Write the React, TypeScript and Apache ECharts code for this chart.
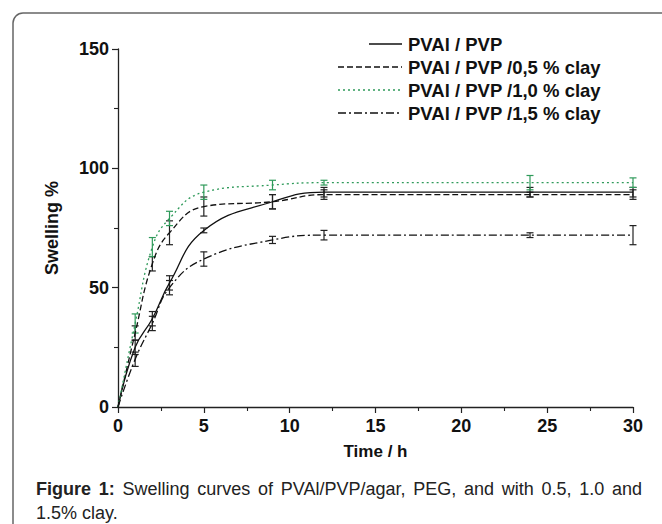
import React, { useEffect, useRef } from "react";
import * as echarts from "echarts";

const time = [0, 1, 2, 3, 5, 9, 12, 24, 30];
const seriesNames = [
  "PVAl / PVP",
  "PVAl / PVP /0,5 % clay",
  "PVAl / PVP /1,0 % clay",
  "PVAl / PVP /1,5 % clay",
];
const pvp = [0, 25, 37, 52, 74, 86, 90, 90, 90];
const pvpErr = [0, 3, 3, 3, 1, 3, 2, 2, 2];
const clay05 = [0, 31, 60, 73, 84, 86, 89, 89, 89];
const clay05Err = [0, 3, 3, 5, 4, 3, 2, 1, 2];
const clay10 = [0, 35, 67, 79, 90, 93, 94, 94, 94];
const clay10Err = [0, 4, 4, 3, 3, 2, 1, 3, 2];
const clay15 = [0, 20, 35, 50, 62, 70, 72, 72, 72];
const clay15Err = [0, 3, 3, 3, 3, 1.5, 2, 1, 4];
const xTicks = [0, 5, 10, 15, 20, 25, 30];
const yTicks = [0, 50, 100, 150];
const captionBold = ["Figure", "1:"];
const captionLine1 = ["Swelling", "curves", "of", "PVAl/PVP/agar,", "PEG,", "and", "with", "0.5,", "1.0", "and"];
const captionLine2 = "1.5% clay.";

const FONT = "'Liberation Sans', Arial, sans-serif";
const GREEN = "#2f9a5a";

export default function App() {
  const ref = useRef<HTMLDivElement>(null);

  useEffect(() => {
    if (!ref.current) return;
    const chart = echarts.init(ref.current, undefined, { renderer: "svg" });

    const values = [pvp, clay05, clay10, clay15];
    const errs = [pvpErr, clay05Err, clay10Err, clay15Err];
    const colors = ["#111", "#111", GREEN, "#111"];
    const dashes: any[] = ["solid", [6, 3], [2, 3], [8, 3, 2, 3]];

    const lineSeries = values.map((v, i) => ({
      name: seriesNames[i],
      type: "line",
      data: time.map((t, j) => [t, v[j]]),
      symbol: "none",
      smooth: 0.45,
      lineStyle: { color: colors[i], width: 1.3, type: dashes[i] },
      z: 3,
    }));

    const errSeries = values.map((v, i) => ({
      name: seriesNames[i] + " err",
      type: "custom",
      data: time
        .map((t, j) => [t, v[j] - errs[i][j], v[j] + errs[i][j]])
        .filter((_, j) => errs[i][j] > 0),
      z: 2,
      renderItem: (params: any, api: any) => {
        const x = api.value(0);
        const lo = api.value(1);
        const hi = api.value(2);
        const p1 = api.coord([x, hi]);
        const p2 = api.coord([x, lo]);
        const hw = 3.5;
        const st = { stroke: i === 2 ? GREEN : "#222", lineWidth: 1.2 };
        return {
          type: "group",
          children: [
            { type: "line", shape: { x1: p1[0], y1: p1[1], x2: p2[0], y2: p2[1] }, style: st },
            { type: "line", shape: { x1: p1[0] - hw, y1: p1[1], x2: p1[0] + hw, y2: p1[1] }, style: st },
            { type: "line", shape: { x1: p2[0] - hw, y1: p2[1], x2: p2[0] + hw, y2: p2[1] }, style: st },
          ],
        };
      },
    }));

    const legendRows = seriesNames.map((name, i) => {
      const y = 44 + i * 23;
      const x1 = i === 0 ? 369 : 338;
      return [
        {
          type: "line",
          shape: { x1, y1: y, x2: 402, y2: y },
          style: {
            stroke: colors[i],
            lineWidth: 1.3,
            lineDash: dashes[i] === "solid" ? null : dashes[i],
          },
        },
        {
          type: "text",
          x: 408,
          y,
          style: {
            text: name,
            font: `bold 18.5px ${FONT}`,
            fill: "#111",
            verticalAlign: "middle",
            align: "left",
          },
        },
      ];
    }).flat();

    // justified first caption line
    const capFont = `18px ${FONT}`;
    const capBoldFont = `bold 18px ${FONT}`;
    const words = [
      ...captionBold.map((w) => ({ w, bold: true })),
      ...captionLine1.map((w) => ({ w, bold: false })),
    ];
    const ctx = document.createElement("canvas").getContext("2d")!;
    const widths = words.map((o) => {
      ctx.font = o.bold ? capBoldFont : capFont;
      return ctx.measureText(o.w).width;
    });
    const left = 36;
    const right = 642;
    const total = widths.reduce((a, b) => a + b, 0);
    const gap = (right - left - total) / (words.length - 1);
    let cx = left;
    const captionWords = words.map((o, k) => {
      const el = {
        type: "text",
        x: cx,
        y: 489,
        style: {
          text: o.w,
          font: o.bold ? capBoldFont : capFont,
          fill: "#222",
          verticalAlign: "middle",
          align: "left",
        },
      };
      cx += widths[k] + gap;
      return el;
    });

    chart.setOption({
      animation: false,
      backgroundColor: "#fff",
      grid: { left: 118, right: 29, top: 49, bottom: 117 },
      xAxis: {
        type: "value",
        min: 0,
        max: 30,
        interval: 5,
        name: "Time / h",
        nameLocation: "middle",
        nameGap: 36,
        nameTextStyle: { fontFamily: FONT, fontWeight: "bold", fontSize: 17, color: "#111" },
        axisLine: { lineStyle: { color: "#222", width: 1.3 } },
        axisTick: { show: true, length: 6, lineStyle: { color: "#222", width: 1.2 } },
        minorTick: { show: true, splitNumber: 2, length: 4, lineStyle: { color: "#222", width: 1.1 } },
        splitLine: { show: false },
        axisLabel: {
          fontFamily: FONT,
          fontWeight: "bold",
          fontSize: 18,
          color: "#111",
          margin: 10,
          formatter: (v: number) => (xTicks.includes(v) ? String(v) : ""),
        },
      },
      yAxis: {
        type: "value",
        min: 0,
        max: 150,
        interval: 50,
        name: "Swelling %",
        nameLocation: "middle",
        nameGap: 57,
        nameTextStyle: { fontFamily: FONT, fontWeight: "bold", fontSize: 18, color: "#111" },
        axisLine: { show: true, lineStyle: { color: "#222", width: 1.3 } },
        axisTick: { show: true, length: 6, lineStyle: { color: "#222", width: 1.2 } },
        minorTick: { show: true, splitNumber: 2, length: 4, lineStyle: { color: "#222", width: 1.1 } },
        splitLine: { show: false },
        axisLabel: {
          fontFamily: FONT,
          fontWeight: "bold",
          fontSize: 18,
          color: "#111",
          margin: 9,
          formatter: (v: number) => (yTicks.includes(v) ? String(v) : ""),
        },
      },
      graphic: [
        {
          type: "rect",
          shape: { x: 13, y: 13, width: 720, height: 620, r: 10 },
          style: { fill: "none", stroke: "#666", lineWidth: 1.5 },
          silent: true,
        },
        ...legendRows,
        ...captionWords,
        {
          type: "text",
          x: 36,
          y: 513,
          style: {
            text: captionLine2,
            font: capFont,
            fill: "#222",
            verticalAlign: "middle",
          },
        },
      ],
      series: [...errSeries, ...lineSeries],
    });

    return () => chart.dispose();
  }, []);

  return (
    <div
      ref={ref}
      style={{ position: "fixed", left: 0, top: 0, width: 662, height: 524 }}
    />
  );
}
